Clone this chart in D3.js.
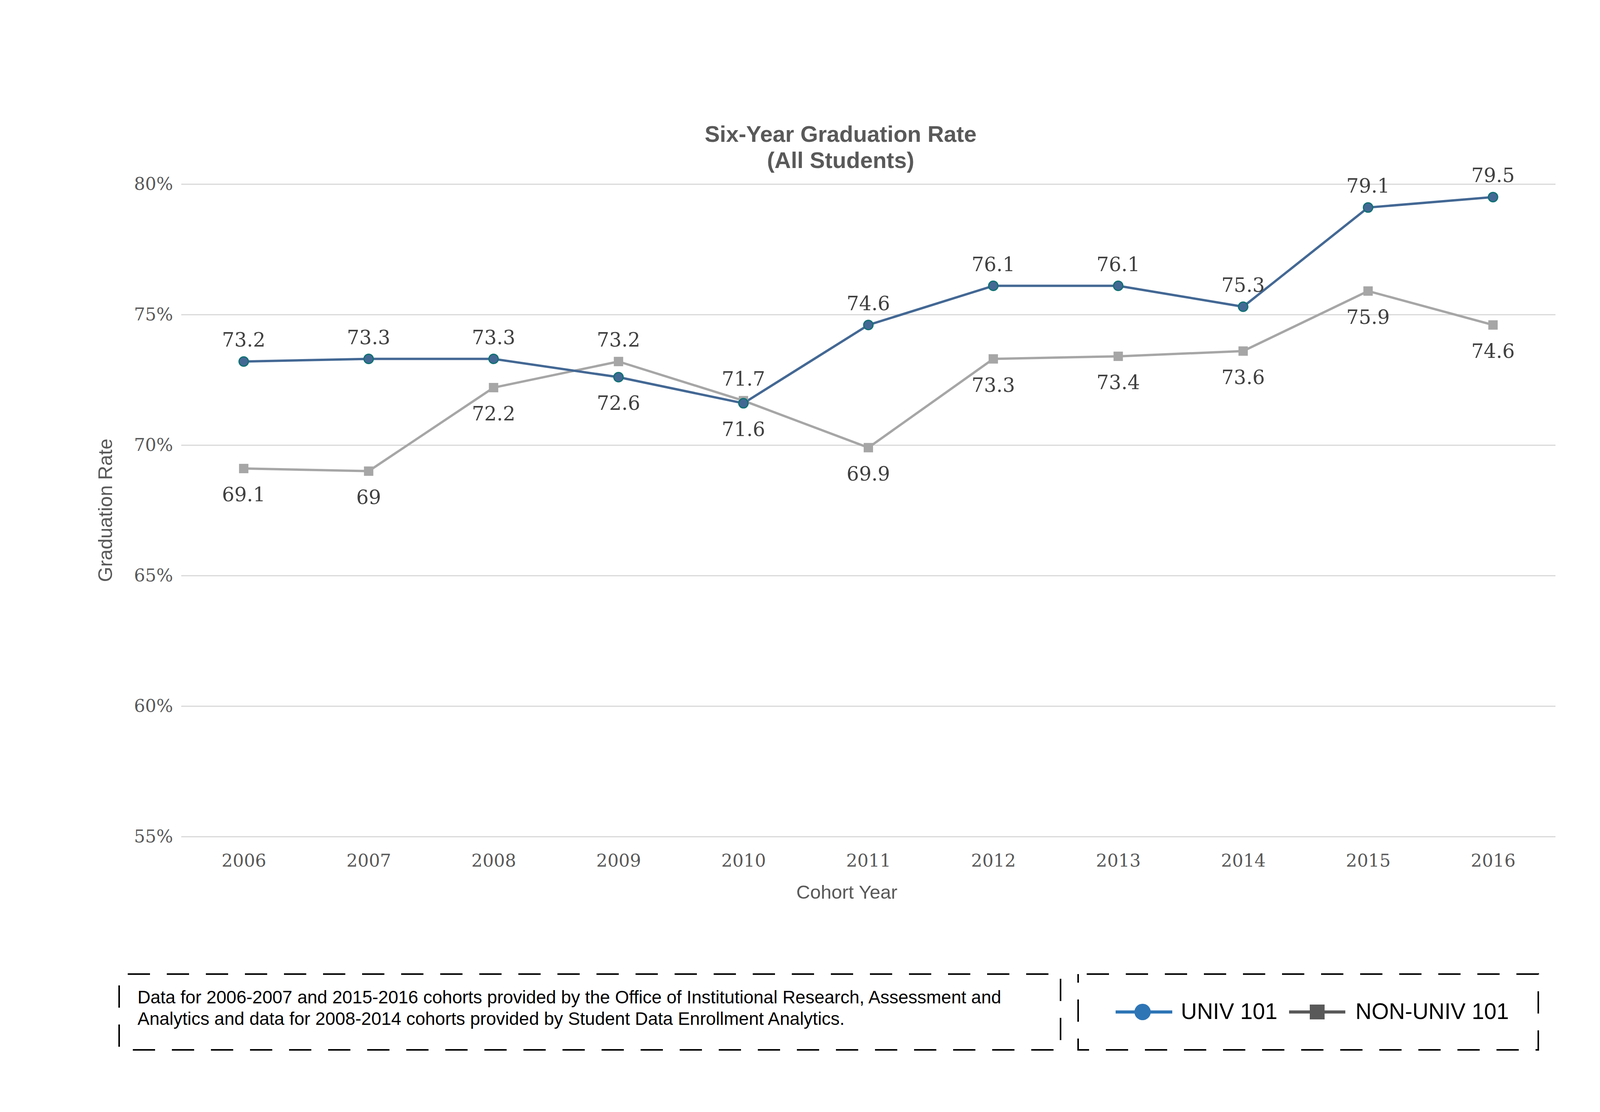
<!DOCTYPE html>
<html>
<head>
<meta charset="utf-8">
<script src="https://cdn.jsdelivr.net/npm/d3@7"></script>
<style>
  body { margin: 0; background: #fff; }
  svg { display: block; }
</style>
</head>
<body>
<svg id="chart" width="4267" height="2846"></svg>
<script>
const years = [2006, 2007, 2008, 2009, 2010, 2011, 2012, 2013, 2014, 2015, 2016];
const univ101 = [73.2, 73.3, 73.3, 72.6, 71.6, 74.6, 76.1, 76.1, 75.3, 79.1, 79.5];
const nonUniv101 = [69.1, 69, 72.2, 73.2, 71.7, 69.9, 73.3, 73.4, 73.6, 75.9, 74.6];
const yTicks = [55, 60, 65, 70, 75, 80];
const seriesNames = ['UNIV 101', 'NON-UNIV 101'];
const titleLines = ['Six-Year Graduation Rate', '(All Students)'];
const footnoteLines = [
  'Data for 2006-2007 and 2015-2016 cohorts provided by the Office of Institutional Research, Assessment and',
  'Analytics and data for 2008-2014 cohorts provided by Student Data Enrollment Analytics.'
];

const svg = d3.select('#chart');
const plot = { left: 464, right: 3982, top: 471, bottom: 2141 };
const serif = 'DejaVu Serif, Georgia, serif';
const sans = 'Liberation Sans, Arial, sans-serif';

let x = d3.scalePoint().domain(years).range([plot.left, plot.right]).padding(0.5);
let y = d3.scaleLinear().domain([55, 80]).range([plot.bottom, plot.top]);

svg.append('rect').attr('width', 4267).attr('height', 2846).attr('fill', '#fff');

// title
svg.append('g')
  .selectAll('text')
  .data(titleLines)
  .join('text')
  .attr('x', 2152)
  .attr('y', (d, i) => 363 + i * 67)
  .attr('text-anchor', 'middle')
  .attr('font-family', sans)
  .attr('font-weight', 'bold')
  .attr('font-size', 58)
  .attr('fill', '#595959')
  .text((d) => d);

// y axis + grid
let yAxis = svg.append('g')
  .attr('transform', `translate(${plot.left},0)`)
  .call(d3.axisLeft(y).tickValues(yTicks).tickSize(-(plot.right - plot.left)).tickPadding(21).tickFormat((d) => d + '%'));
yAxis.select('.domain').remove();
yAxis.selectAll('line').attr('stroke', '#d9d9d9').attr('stroke-width', 3);
yAxis.selectAll('text').attr('font-family', serif).attr('font-size', 45).attr('fill', '#595959');

// x axis
let xAxis = svg.append('g')
  .attr('transform', `translate(0,${plot.bottom})`)
  .call(d3.axisBottom(x).tickSize(0).tickPadding(45));
xAxis.select('.domain').remove();
xAxis.selectAll('text').attr('font-family', serif).attr('font-size', 45).attr('fill', '#595959');

// axis titles
svg.append('text')
  .attr('transform', `translate(287,${(plot.top + plot.bottom) / 2}) rotate(-90)`)
  .attr('text-anchor', 'middle')
  .attr('font-family', sans)
  .attr('font-size', 50)
  .attr('fill', '#595959')
  .text('Graduation Rate');

svg.append('text')
  .attr('x', 2168)
  .attr('y', 2300)
  .attr('text-anchor', 'middle')
  .attr('font-family', sans)
  .attr('font-size', 49)
  .attr('fill', '#595959')
  .text('Cohort Year');

// lines
let line = d3.line()
  .x((d, i) => x(years[i]))
  .y((d) => y(d));

svg.append('path')
  .attr('d', line(nonUniv101))
  .attr('fill', 'none')
  .attr('stroke', '#a6a6a6')
  .attr('stroke-width', 6);

svg.append('path')
  .attr('d', line(univ101))
  .attr('fill', 'none')
  .attr('stroke', '#436894')
  .attr('stroke-width', 6);

// markers
svg.append('g')
  .selectAll('rect')
  .data(nonUniv101)
  .join('rect')
  .attr('x', (d, i) => x(years[i]) - 12)
  .attr('y', (d) => y(d) - 12)
  .attr('width', 24)
  .attr('height', 24)
  .attr('fill', '#a6a6a6');

svg.append('g')
  .selectAll('circle')
  .data(univ101)
  .join('circle')
  .attr('cx', (d, i) => x(years[i]))
  .attr('cy', (d) => y(d))
  .attr('r', 12)
  .attr('fill', '#436894')
  .attr('stroke', '#0f7173')
  .attr('stroke-width', 3);

// data labels: the higher series goes above, the lower one below
function addLabels(values, other) {
  svg.append('g')
    .selectAll('text')
    .data(values)
    .join('text')
    .attr('x', (d, i) => x(years[i]))
    .attr('y', (d, i) => (d >= other[i] ? y(d) - 38 : y(d) + 84))
    .attr('text-anchor', 'middle')
    .attr('font-family', serif)
    .attr('font-size', 50)
    .attr('fill', '#404040')
    .text((d) => String(d));
}
addLabels(univ101, nonUniv101);
addLabels(nonUniv101, univ101);

// footnote box
svg.append('rect')
  .attr('x', 305).attr('y', 2493)
  .attr('width', 2410).attr('height', 194)
  .attr('fill', 'none')
  .attr('stroke', '#000')
  .attr('stroke-width', 4)
  .attr('stroke-dasharray', '57 43')
  .attr('stroke-dashoffset', -22);

svg.append('g')
  .selectAll('text')
  .data(footnoteLines)
  .join('text')
  .attr('x', 352)
  .attr('y', (d, i) => 2568 + i * 55)
  .attr('font-family', sans)
  .attr('font-size', 46)
  .attr('fill', '#000')
  .text((d) => d);

// legend box
svg.append('rect')
  .attr('x', 2760).attr('y', 2493)
  .attr('width', 1178).attr('height', 194)
  .attr('fill', 'none')
  .attr('stroke', '#000')
  .attr('stroke-width', 4)
  .attr('stroke-dasharray', '57 43')
  .attr('stroke-dashoffset', -22);

let legendY = 2590;
let lg = svg.append('g');
lg.append('line').attr('x1', 2856).attr('x2', 3001).attr('y1', legendY).attr('y2', legendY)
  .attr('stroke', '#2e75b6').attr('stroke-width', 8);
lg.append('circle').attr('cx', 2925).attr('cy', legendY).attr('r', 21).attr('fill', '#2e75b6');
lg.append('text').attr('x', 3023).attr('y', 2608)
  .attr('font-family', sans).attr('font-size', 57).attr('fill', '#000').text(seriesNames[0]);

lg.append('line').attr('x1', 3300).attr('x2', 3444).attr('y1', legendY).attr('y2', legendY)
  .attr('stroke', '#595959').attr('stroke-width', 8);
lg.append('rect').attr('x', 3372 - 19).attr('y', legendY - 19).attr('width', 38).attr('height', 38).attr('fill', '#595959');
lg.append('text').attr('x', 3470).attr('y', 2608)
  .attr('font-family', sans).attr('font-size', 57).attr('fill', '#000').text(seriesNames[1]);
</script>
</body>
</html>
